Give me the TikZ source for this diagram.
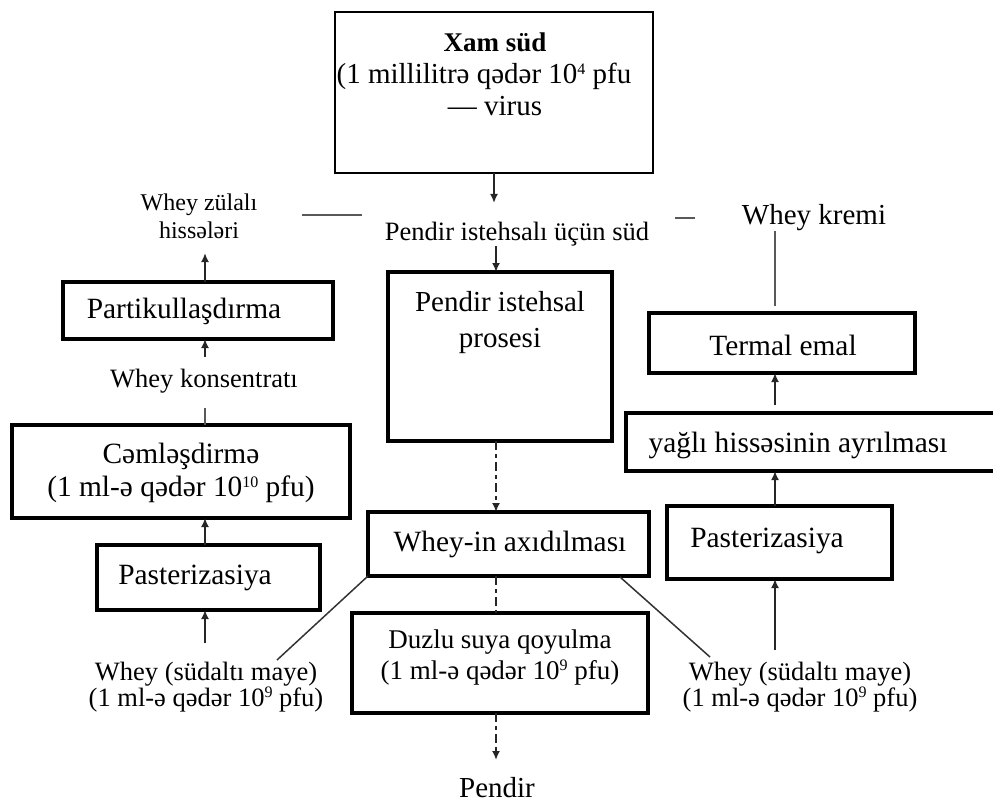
\documentclass[tikz,border=0pt]{standalone}
\usepackage{fontspec}
\setmainfont{Liberation Serif}
\usetikzlibrary{arrows.meta,calc}
\newcommand{\supn}[1]{\raisebox{9pt}{\fontsize{16}{16}\selectfont #1}}
\begin{document}
\begin{tikzpicture}[x=1pt,y=-1pt,
  box/.style={draw=black, line width=3.5pt, inner sep=0pt, outer sep=0pt},
  txt/.style={inner sep=0pt, outer sep=0pt, align=center},
  f24/.style={font=\fontsize{24}{28}\selectfont},
  f26/.style={font=\fontsize{26.5}{26}\selectfont},
  f27/.style={font=\fontsize{27}{31}\selectfont},
  f28/.style={font=\fontsize{29.4}{33}\selectfont},
  f29/.style={font=\fontsize{29}{36}\selectfont},
  arr/.style={-{Latex[length=9pt,width=8pt]}, line width=1.8pt, draw=black!85},
  gline/.style={line width=1.8pt, draw=black!65},
  dline/.style={line width=1.5pt, draw=black!80},
  dsh/.style={dash pattern=on 9pt off 4pt on 4pt off 4pt}
]
\useasboundingbox (0,0) rectangle (993,805);
\coordinate (Lc) at (205,0);
\coordinate (Mc) at (496,0);
\coordinate (Rc) at (775,0);

% top box
\node[box, line width=1.8pt, minimum width=318, minimum height=161] (raw) at (494,92.5) {};
\node[txt, font=\bfseries\fontsize{27}{31}\selectfont] (rawA) at (495,42) {Xam süd};
\node[txt, font=\fontsize{29}{31}\selectfont] (rawB) at (484,76) {(1 millilitrə qədər 10\supn{4} pfu};
\node[txt, font=\fontsize{29}{31}\selectfont] (rawC) at (495,106) {— virus};

\node[txt, f26] (milk) at (517,234) {Pendir istehsalı üçün süd};
\draw[arr] (raw.south) -- ++(0,30);
\coordinate (gl1) at (302,215); \coordinate (gl2) at (362,215);
\draw[gline] (gl1) -- (gl2);
\coordinate (gr1) at (675,218); \coordinate (gr2) at (695,218);
\draw[gline] (gr1) -- (gr2);

% middle column
\node[box, minimum width=224, minimum height=169] (proc) at (500,356.5) {};
\node[txt, f29] (procT) at (500,323) {Pendir istehsal\\prosesi};
\draw[arr] (milk.south -| Mc) -- (proc.north -| Mc);
\node[box, minimum width=281, minimum height=64] (drain) at (508.5,544) {};
\node[txt, f28] (drainT) at (510,544) {Whey-in axıdılması};
\node[box, minimum width=296, minimum height=100] (brine) at (500,663) {};
\node[txt, f27] (brineT) at (500,658) {Duzlu suya qoyulma\\(1 ml-ə qədər 10\supn{9} pfu)};
\node[txt, f29] (pendir) at (497,788) {Pendir};
\draw[arr, dsh] (proc.south -| Mc) -- (drain.north -| Mc);
\draw[line width=1.8pt, draw=black!85, dsh] (drain.south -| Mc) -- (brine.north -| Mc);
\draw[arr, dsh] (brine.south -| Mc) -- ++(0,47);

% diagonals
\coordinate (dL) at (277,660);
\coordinate (dRs) at (620,577);
\coordinate (dR) at (710,657);
\draw[dline] (drain.south west) -- (dL);
\draw[dline] (dRs) -- (dR);

% left column
\node[txt, f24] (wp) at (199,216) {Whey zülalı\\hissələri};
\node[box, minimum width=270, minimum height=57] (part) at (198,310.5) {};
\node[txt, f28] (partT) at (184,311) {Partikullaşdırma};
\draw[arr] (part.north -| Lc) -- ++(0,-29);
\node[txt, f26] (kons) at (204,381) {Whey konsentratı};
\draw[arr, shorten <=12pt] (kons.north -| Lc) -- (part.south -| Lc);
\node[box, minimum width=338, minimum height=93] (conc) at (181,471.5) {};
\node[txt, f28] (concT) at (181,473) {Cəmləşdirmə\\(1 ml-ə qədər 10\supn{10} pfu)};
\draw[gline, shorten <=15pt] (kons.south -| Lc) -- (conc.north -| Lc);
\node[box, minimum width=223, minimum height=65] (pastL) at (208.5,577.5) {};
\node[txt, f28] (pastLT) at (195,578) {Pasterizasiya};
\draw[arr] (pastL.north -| Lc) -- (conc.south -| Lc);
\node[txt, f26] (wheyL) at (206,687) {Whey (südaltı maye)\\(1 ml-ə qədər 10\supn{9} pfu)};
\draw[arr] (pastL.south -| Lc) ++(0,33) -- (pastL.south -| Lc);

% right column
\node[txt, f29] (kremi) at (814,218) {Whey kremi};
\node[box, minimum width=266, minimum height=60] (therm) at (782,343) {};
\node[txt, f28] (thermT) at (783,345) {Termal emal};
\draw[gline] (therm.north -| Rc) ++(0,-7) -- (kremi.south -| Rc);
\node[box, draw=none, minimum width=367, minimum height=58] (fat) at (809.5,442) {};
\draw[line width=3.5pt] (fat.north east) -- (fat.north west) -- (fat.south west) -- (fat.south east);
\node[txt, f28] (fatT) at (798,445) {yağlı hissəsinin ayrılması};
\draw[arr, shorten <=8pt] (fat.north -| Rc) -- (therm.south -| Rc);
\node[box, minimum width=225, minimum height=73] (pastR) at (779.5,542.5) {};
\node[txt, f28] (pastRT) at (767,541) {Pasterizasiya};
\draw[arr] (pastR.north -| Rc) -- (fat.south -| Rc);
\node[txt, f26] (wheyR) at (800,687) {Whey (südaltı maye)\\(1 ml-ə qədər 10\supn{9} pfu)};
\draw[arr] (pastR.south -| Rc) ++(0,71) -- (pastR.south -| Rc);
\end{tikzpicture}
\end{document}
